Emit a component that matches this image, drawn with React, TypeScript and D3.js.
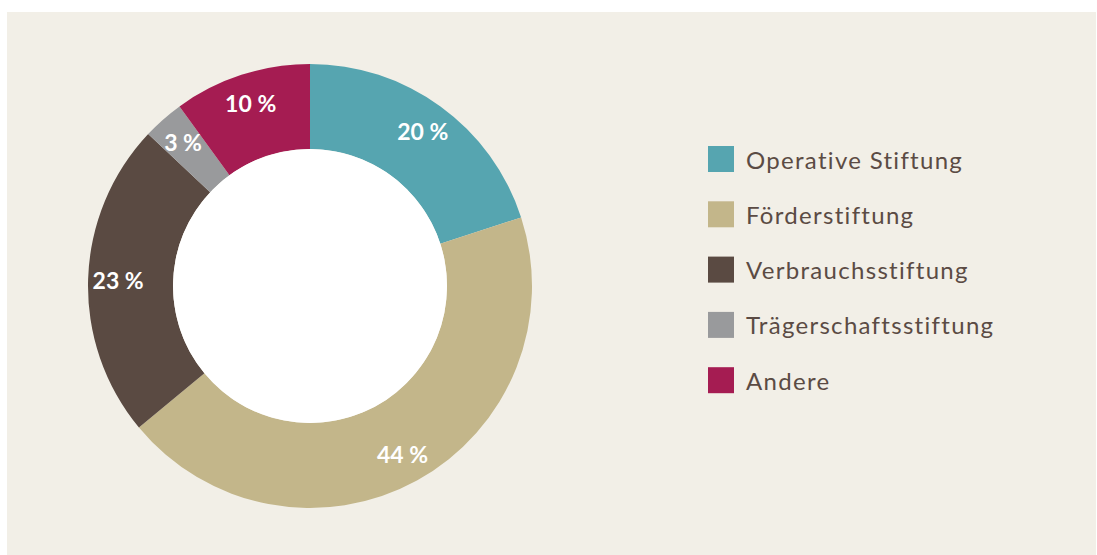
import React from "react";
import * as d3 from "d3";

const categories = ["Operative Stiftung", "Förderstiftung", "Verbrauchsstiftung", "Trägerschaftsstiftung", "Andere"];
const values = [20, 44, 23, 3, 10];
const labels = ["20 %", "44 %", "23 %", "3 %", "10 %"];
const colors = ["#56a5b0", "#c3b68a", "#5a4a42", "#999a9c", "#a51c52"];

const W = 1097;
const H = 555;

export default function App() {
  const cx = 310;
  const cy = 286;
  const outerR = 222;
  const innerR = 137;
  const labelR = 192;

  const pie = d3.pie<number>().sort(null).value((d) => d);
  const arcs = pie(values);
  const arcGen = d3.arc<d3.PieArcDatum<number>>().innerRadius(innerR).outerRadius(outerR);
  const labelArc = d3.arc<d3.PieArcDatum<number>>().innerRadius(labelR).outerRadius(labelR);

  const legendY = d3.scaleBand<number>().domain(d3.range(categories.length)).range([146, 146 + 55.3 * 5]);
  const font = "Lato, 'Open Sans', sans-serif";

  return (
    <svg width={W} height={H} style={{ position: "absolute", left: 0, top: 0, display: "block" }}>
      <rect x={0} y={0} width={W} height={H} fill="#ffffff" />
      <rect x={7} y={12} width={1089} height={543} fill="#f2efe7" />
      <g transform={`translate(${cx},${cy})`}>
        {arcs.map((a, i) => (
          <path key={i} d={arcGen(a) || ""} fill={colors[i]} />
        ))}
        <circle r={innerR} fill="#ffffff" />
        {arcs.map((a, i) => {
          const [x, y] = labelArc.centroid(a);
          return (
            <text
              key={"l" + i}
              x={x}
              y={y}
              textAnchor="middle"
              dominantBaseline="central"
              fill="#ffffff"
              fontFamily={font}
              fontWeight={700}
              fontSize={23}
            >
              {labels[i]}
            </text>
          );
        })}
      </g>
      <g>
        {categories.map((c, i) => {
          const y = legendY(i) as number;
          return (
            <g key={c} transform={`translate(708,${y})`}>
              <rect x={0} y={0} width={26} height={26} fill={colors[i]} />
              <text
                x={38}
                y={13}
                dominantBaseline="central"
                fill="#5b4b44"
                fontFamily={font}
                fontSize={24}
                letterSpacing={1.3}
              >
                {c}
              </text>
            </g>
          );
        })}
      </g>
    </svg>
  );
}
